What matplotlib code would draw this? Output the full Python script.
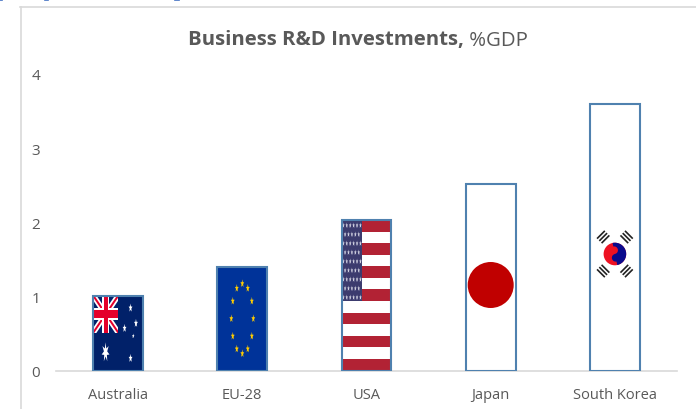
import numpy as np
import matplotlib
matplotlib.use('Agg')
import matplotlib.pyplot as plt
from matplotlib.lines import Line2D
from matplotlib.patches import Circle, Polygon, Rectangle, Wedge
from matplotlib.transforms import Affine2D

plt.rcParams['font.family'] = ['Open Sans', 'DejaVu Sans']

countries = ['Australia', 'EU-28', 'USA', 'Japan', 'South Korea']
rd_share = [1.01, 1.40, 2.03, 2.52, 3.60]
y_ticks = [0, 1, 2, 3, 4]

GREY = '#D9D9D9'
TEXT = '#595959'
EDGE = '#4F81AF'
BAR_W = 0.4

W, H = 696, 410
fig = plt.figure(figsize=(W / 100, H / 100), dpi=100)
ax = fig.add_axes([56 / W, (H - 371.5) / H, 621 / W, 296.5 / H])
ax.set_xlim(-0.5, 4.5)
ax.set_ylim(0, 4)
ax.set_autoscale_on(False)

bars = ax.bar(range(len(countries)), rd_share, width=BAR_W, facecolor='none',
              edgecolor=EDGE, linewidth=1.5, zorder=5)

ax.set_xticks(range(len(countries)))
ax.set_xticklabels(countries, fontsize=10.5, color=TEXT)
ax.set_yticks(y_ticks)
ax.set_yticklabels([str(v) for v in y_ticks], fontsize=11, color=TEXT)
ax.tick_params(axis='both', length=0)
ax.tick_params(axis='x', pad=12)
ax.tick_params(axis='y', pad=11.5)
for side in ('top', 'left', 'right'):
    ax.spines[side].set_visible(False)
ax.spines['bottom'].set_color(GREY)
ax.spines['bottom'].set_linewidth(1.2)


def bar_frame(bar):
    # pixel frame anchored on the bar's lower left corner
    x0, y0 = ax.transData.transform((bar.get_x(), 0))
    x1, y1 = ax.transData.transform((bar.get_x() + bar.get_width(), bar.get_height()))
    return Affine2D().translate(x0, y0), x1 - x0, y1 - y0


def add(patch, trans, z=2):
    patch.set_transform(trans)
    patch.set_zorder(z)
    patch.set_linewidth(0)
    ax.add_patch(patch)
    return patch


def star(cx, cy, w, h, color, trans, points=5, z=3):
    ang = np.pi / 2 + np.arange(2 * points) * np.pi / points
    rad = np.where(np.arange(2 * points) % 2 == 0, 1.0, 0.42)
    xy = np.column_stack([cx + 0.5 * w * rad * np.cos(ang), cy + 0.5 * h * rad * np.sin(ang)])
    add(Polygon(xy, closed=True, facecolor=color), trans, z)


def flag_australia(bar):
    trans, w, h = bar_frame(bar)
    add(Rectangle((0, 0), w, h, facecolor='#012169'), trans)
    # union jack in the upper left corner
    jw, jh = 25, 37
    jx, jy = 0, h - jh
    clip = add(Rectangle((jx, jy), jw, jh, facecolor='#012169'), trans, 3)
    for xs, ys in (((jx, jx + jw), (jy, jy + jh)), ((jx, jx + jw), (jy + jh, jy))):
        for col, lw in (('white', 5.5), ('#E4002B', 2)):
            ln = Line2D(xs, ys, color=col, lw=lw * 0.72, transform=trans, zorder=3,
                        solid_capstyle='butt')
            ax.add_line(ln)
            ln.set_clip_path(clip)
    add(Rectangle((jx + jw / 2 - 3.5, jy), 7, jh, facecolor='white'), trans, 4)
    add(Rectangle((jx, jy + jh / 2 - 6), jw, 12, facecolor='white'), trans, 4)
    add(Rectangle((jx + jw / 2 - 2, jy), 4, jh, facecolor='#E4002B'), trans, 4)
    add(Rectangle((jx, jy + jh / 2 - 4), jw, 8, facecolor='#E4002B'), trans, 4)
    for cx, cy in ((37.3, 62.5), (42.7, 47.2), (31.3, 42.2), (37.3, 12.2)):
        star(cx, cy, 4, 9, 'white', trans)
    star(40, 34.5, 2.5, 5, 'white', trans)
    star(12.3, 18.2, 8, 20, 'white', trans, points=7)


def flag_eu(bar):
    trans, w, h = bar_frame(bar)
    add(Rectangle((0, 0), w, h, facecolor='#003399'), trans)
    for a in np.arange(12) * np.pi / 6:
        star(w / 2 + 11 * np.sin(a), h / 2 + 35 * np.cos(a), 4, 8.5, '#FFCC00', trans)


def flag_usa(bar):
    trans, w, h = bar_frame(bar)
    add(Rectangle((0, 0), w, h, facecolor='white'), trans)
    sh = h / 13
    for i in range(0, 13, 2):
        add(Rectangle((0, i * sh), w, sh, facecolor='#B22234'), trans)
    # canton covers the seven top stripes
    cy0 = 6 * sh
    cw = 20.5
    add(Rectangle((0, cy0), cw, h - cy0, facecolor='#3C3B6E'), trans, 3)
    rows = 9
    for r in range(rows):
        n = 6 if r % 2 == 0 else 5
        y = h - (r + 0.6) * (h - cy0) / rows
        for c in range(n):
            x = (c + 0.5 + (0 if n == 6 else 0.5)) * cw / 6
            star(x, y, 2.6, 6, '#D5D5E4', trans, z=4)


def flag_japan(bar):
    trans, w, h = bar_frame(bar)
    add(Circle((w / 2, 85.5), 23, facecolor='#C00000'), trans)


def flag_korea(bar):
    trans, w, h = bar_frame(bar)
    cx, cy = w / 2, 116.5
    r = 11.3
    spin = Affine2D().rotate_deg_around(cx, cy, 12) + trans
    add(Circle((cx, cy), r, facecolor='#EE1122'), trans)
    add(Wedge((cx, cy), r, -90, 90, facecolor='#0A0A8C'), spin, 3)
    add(Circle((cx, cy + r * 0.34), r * 0.34, facecolor='#EE1122'), spin, 4)
    add(Circle((cx, cy - r * 0.34), r * 0.34, facecolor='#0A0A8C'), spin, 4)
    # four groups of three black strokes around the circle
    for sx, sy in ((-1, 1), (1, 1), (-1, -1), (1, -1)):
        px, py = cx + sx * 11.7, cy + sy * 17
        ux, uy = np.array([sy, -sx]) * 0.7071 * 5.5
        nx, ny = np.array([sx, sy]) * 0.7071 * 3.2
        for k in (-1, 0, 1):
            ax.add_line(Line2D([px - ux + k * nx, px + ux + k * nx],
                               [py - uy + k * ny, py + uy + k * ny],
                               color='#222222', lw=1.2, transform=trans, zorder=3,
                               solid_capstyle='butt'))


for bar, draw in zip(bars, (flag_australia, flag_eu, flag_usa, flag_japan, flag_korea)):
    draw(bar)

# chart frame, open on the right and at the bottom
fig.add_artist(Line2D([20.5 / W, 20.5 / W], [0, (H - 8) / H], color=GREY, lw=1.2))
fig.add_artist(Line2D([20 / W, 1], [(H - 8) / H, (H - 8) / H], color=GREY, lw=1.2))

# bits of the line of blue text cut off above the frame
for x0, x1 in ((45, 48), (175, 179), (0, 2)):
    fig.add_artist(Line2D([x0 / W, x1 / W], [(H - 0.5) / H, (H - 0.5) / H], color='#4472C4', lw=1.2))

t1 = fig.text(188 / W, (H - 40.5) / H, 'Business R&D Investments,', fontsize=14.7,
              fontweight='bold', color=TEXT, va='center', ha='left')
ax.annotate(' %GDP', xy=(1, 0), xycoords=t1, va='bottom', ha='left',
            fontsize=14.7, color=TEXT)

fig.savefig('out.png', dpi=100)
